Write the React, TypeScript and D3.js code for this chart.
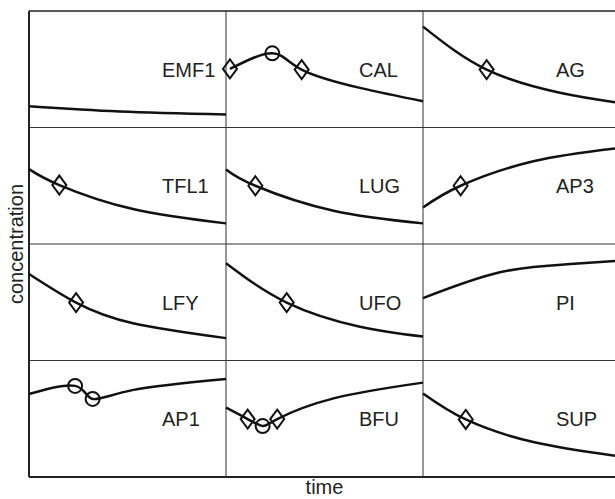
import React, {useEffect, useRef} from 'react'
import * as d3 from 'd3'

// one panel per gene, read row by row (3 columns x 4 rows)
const genes = ['EMF1', 'CAL', 'AG', 'TFL1', 'LUG', 'AP3', 'LFY', 'UFO', 'PI', 'AP1', 'BFU', 'SUP']

// time (0..1 across a panel) for each sampled point
const times = [
  [0, 0.46, 1],
  [0.02, 0.235, 0.384, 0.68, 1],
  [0, 0.323, 0.695, 0.975],
  [0, 0.154, 0.528, 1],
  [0, 0.149, 0.546, 1],
  [0, 0.191, 0.56, 0.975],
  [0, 0.239, 0.528, 1],
  [0, 0.308, 0.68, 1],
  [0, 0.39, 0.73, 0.975],
  [0, 0.234, 0.323, 0.53, 1],
  [0, 0.11, 0.186, 0.26, 0.546, 1],
  [0, 0.217, 0.56, 0.975]
]

// concentration (0..1 of panel height)
const values = [
  [0.183, 0.138, 0.112],
  [0.503, 0.637, 0.497, 0.34, 0.225],
  [0.866, 0.497, 0.298, 0.217],
  [0.643, 0.506, 0.3, 0.177],
  [0.64, 0.5, 0.285, 0.177],
  [0.314, 0.5, 0.71, 0.82],
  [0.743, 0.497, 0.32, 0.192],
  [0.835, 0.497, 0.29, 0.206],
  [0.535, 0.757, 0.826, 0.854],
  [0.713, 0.782, 0.67, 0.748, 0.842],
  [0.595, 0.497, 0.437, 0.497, 0.675, 0.81],
  [0.717, 0.494, 0.3, 0.182]
]

// marker on each point: d = diamond, o = circle, '' = none
const markers = [
  ['', '', ''],
  ['d', 'o', 'd', '', ''],
  ['', 'd', '', ''],
  ['', 'd', '', ''],
  ['', 'd', '', ''],
  ['', 'd', '', ''],
  ['', 'd', '', ''],
  ['', 'd', '', ''],
  ['', '', '', ''],
  ['', 'o', 'o', '', ''],
  ['', 'd', 'o', 'd', '', ''],
  ['', 'd', '', '']
]

const W = 615
const H = 499
const left = 29
const top = 11
const bottom = 477
const colW = 197
const nCols = 3
const nRows = 4
const font = '"Liberation Sans", Arial, sans-serif'

export default function App () {
  const ref = useRef<SVGSVGElement>(null)

  useEffect(() => {
    const svg = d3.select(ref.current)
    svg.selectAll('*').remove()
    const rowH = (bottom - top) / nRows
    const right = left + colW * nCols

    const g = svg.append('g')

    // inner grid
    for (let c = 1; c < nCols; c++) {
      g.append('line').attr('x1', left + c * colW).attr('x2', left + c * colW)
        .attr('y1', top).attr('y2', bottom).attr('stroke', '#333').attr('stroke-width', 1)
    }
    for (let r = 1; r < nRows; r++) {
      g.append('line').attr('x1', left).attr('x2', right)
        .attr('y1', top + r * rowH).attr('y2', top + r * rowH).attr('stroke', '#333').attr('stroke-width', 1)
    }
    // outer frame
    g.append('line').attr('x1', left).attr('x2', right).attr('y1', top).attr('y2', top)
      .attr('stroke', '#222').attr('stroke-width', 1.5)
    g.append('line').attr('x1', left).attr('x2', right).attr('y1', bottom).attr('y2', bottom)
      .attr('stroke', '#222').attr('stroke-width', 2)
    g.append('line').attr('x1', left).attr('x2', left).attr('y1', top).attr('y2', bottom)
      .attr('stroke', '#222').attr('stroke-width', 2)

    genes.forEach((name, i) => {
      const col = i % nCols
      const row = Math.floor(i / nCols)
      const x0 = left + col * colW
      const y0 = top + row * rowH
      const x = d3.scaleLinear().domain([0, 1]).range([x0, x0 + colW])
      const y = d3.scaleLinear().domain([0, 1]).range([y0 + rowH, y0])
      const pts = times[i].map((t, k) => [t, values[i][k]] as [number, number])

      const line = d3.line<[number, number]>().x(d => x(d[0])).y(d => y(d[1])).curve(d3.curveNatural)
      g.append('path').attr('d', line(pts)).attr('fill', 'none')
        .attr('stroke', '#111').attr('stroke-width', 2.5)

      pts.forEach((p, k) => {
        const m = markers[i][k]
        if (m === 'd') {
          g.append('path').attr('d', 'M0,-9.5L7,0L0,9.5L-7,0Z')
            .attr('transform', `translate(${x(p[0])},${y(p[1])})`)
            .attr('fill', 'none').attr('stroke', '#111').attr('stroke-width', 2)
        } else if (m === 'o') {
          g.append('circle').attr('cx', x(p[0])).attr('cy', y(p[1])).attr('r', 7)
            .attr('fill', 'none').attr('stroke', '#111').attr('stroke-width', 2)
        }
      })

      g.append('text').attr('x', x0 + 133).attr('y', y0 + 65.5)
        .attr('font-family', font).attr('font-size', 20).attr('fill', '#222')
        .text(name)
    })

    svg.append('text').attr('x', 324.5).attr('y', 494)
      .attr('text-anchor', 'middle').attr('font-family', font).attr('font-size', 20).attr('fill', '#222')
      .text('time')
    svg.append('text').attr('transform', `translate(23,${(top + bottom) / 2}) rotate(-90)`)
      .attr('text-anchor', 'middle').attr('font-family', font).attr('font-size', 20).attr('fill', '#222')
      .text('concentration')
  }, [])

  return (
    <div style={{position: 'absolute', left: 0, top: 0}}>
      <svg ref={ref} width={W} height={H} style={{display: 'block', background: '#fff'}} />
    </div>
  )
}
